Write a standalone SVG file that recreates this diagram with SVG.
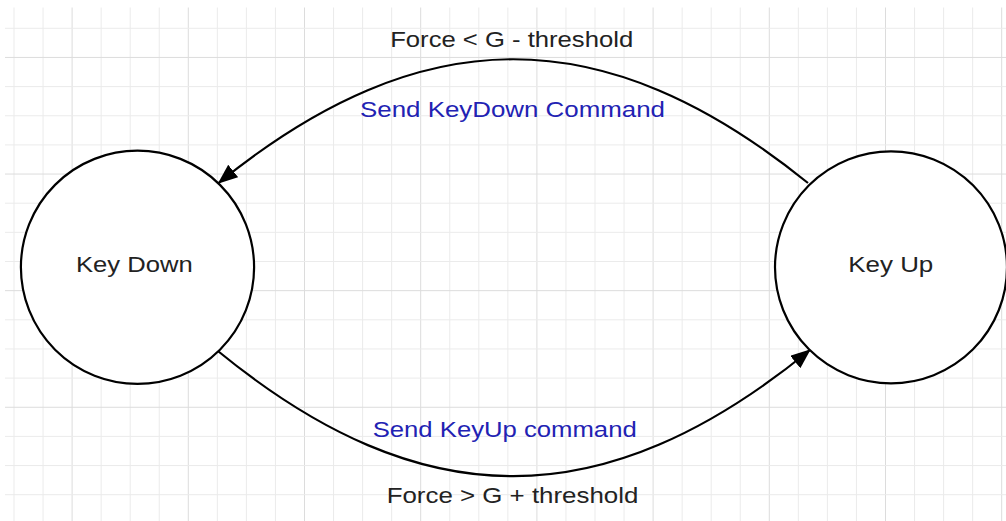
<svg xmlns="http://www.w3.org/2000/svg" width="1006" height="521" viewBox="0 0 1006 521">
<style>
.minor{stroke:#ebebeb;stroke-width:1;fill:none}
.major{stroke:#dcdcdc;stroke-width:1;fill:none}
.state{fill:#ffffff;stroke:#000000;stroke-width:2.2}
.lbl{font-family:"Liberation Sans",Arial,sans-serif;font-size:22px;fill:#222222;text-anchor:middle}
.act{font-family:"Liberation Sans",Arial,sans-serif;font-size:22px;fill:#2222b3;text-anchor:middle}
.edge{fill:none;stroke:#000000;stroke-width:2.2}
</style>
<defs>
<marker id="arrow" markerUnits="userSpaceOnUse" markerWidth="22" markerHeight="18" refX="19" refY="8" orient="auto">
<path d="M0,0 L20,8 L0,16 Z" fill="#000000"/>
</marker>
</defs>
<rect width="1006" height="521" fill="#ffffff"/>
<g id="grid">
<path class="minor" d="M14,7.5V521 M43.05,7.5V521 M101.15,7.5V521 M130.2,7.5V521 M159.25,7.5V521 M217.35,7.5V521 M246.4,7.5V521 M275.45,7.5V521 M333.55,7.5V521 M362.6,7.5V521 M391.65,7.5V521 M449.75,7.5V521 M478.8,7.5V521 M507.85,7.5V521 M565.95,7.5V521 M595,7.5V521 M624.05,7.5V521 M682.15,7.5V521 M711.2,7.5V521 M740.25,7.5V521 M798.35,7.5V521 M827.4,7.5V521 M856.45,7.5V521 M914.55,7.5V521 M943.6,7.5V521 M972.65,7.5V521"/>
<path class="major" d="M72.1,7.5V521 M188.3,7.5V521 M304.5,7.5V521 M420.7,7.5V521 M536.9,7.5V521 M653.1,7.5V521 M769.3,7.5V521 M885.5,7.5V521 M1001.7,7.5V521"/>
<path class="minor" d="M5,28.3H1006 M5,86.6H1006 M5,115.75H1006 M5,144.9H1006 M5,203.2H1006 M5,232.35H1006 M5,261.5H1006 M5,319.8H1006 M5,348.95H1006 M5,378.1H1006 M5,436.4H1006 M5,465.55H1006 M5,494.7H1006"/>
<path class="major" d="M5,57.45H1006 M5,174.05H1006 M5,290.65H1006 M5,407.25H1006"/>
</g>
<g id="connectors">
<path id="edge-up-to-down" class="edge" d="M808,183 C604,18 422,18 218.5,183" marker-end="url(#arrow)"/>
<path id="edge-down-to-up" class="edge" d="M218.5,351.5 C422,518 604,518 810,350" marker-end="url(#arrow)"/>
<text class="lbl" x="511.7" y="46.7" textLength="243" lengthAdjust="spacingAndGlyphs">Force &lt; G - threshold</text>
<text class="act" x="512.5" y="116.7" textLength="305" lengthAdjust="spacingAndGlyphs">Send KeyDown Command</text>
<text class="act" x="504.7" y="437.3" textLength="264" lengthAdjust="spacingAndGlyphs">Send KeyUp command</text>
<text class="lbl" x="512.5" y="503.3" textLength="251.7" lengthAdjust="spacingAndGlyphs">Force &gt; G + threshold</text>
</g>
<g id="key-down">
<circle class="state" cx="137.5" cy="267.3" r="116.6"/>
<text class="lbl" x="134.3" y="271.7" textLength="116.7" lengthAdjust="spacingAndGlyphs">Key Down</text>
</g>
<g id="key-up">
<circle class="state" cx="891" cy="267.3" r="116"/>
<text class="lbl" x="890.8" y="271.7" textLength="85" lengthAdjust="spacingAndGlyphs">Key Up</text>
</g>
</svg>
